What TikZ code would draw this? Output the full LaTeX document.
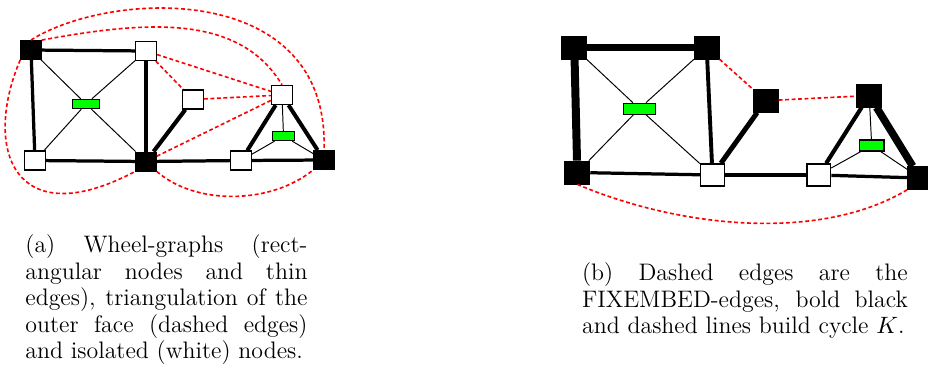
\documentclass[tikz,border=0pt]{standalone}
\begin{document}
\begin{tikzpicture}[x=0.463pt,y=-0.463pt,
  bnA/.style={draw=black,fill=black,line width=0.4pt,minimum width=9.6pt,minimum height=8.8pt,inner sep=0pt},
  wnA/.style={draw=black,fill=white,line width=0.6pt,minimum width=9.6pt,minimum height=8.8pt,inner sep=0pt},
  gnA/.style={draw=black,fill=green,line width=0.5pt,minimum width=12.5pt,minimum height=4.3pt,inner sep=0pt},
  gsA/.style={draw=black,fill=green,line width=0.5pt,minimum width=9.8pt,minimum height=4.3pt,inner sep=0pt},
  bnB/.style={draw=black,fill=black,line width=0.4pt,minimum width=11.6pt,minimum height=10.6pt,inner sep=0pt},
  wnB/.style={draw=black,fill=white,line width=0.7pt,minimum width=11pt,minimum height=10.2pt,inner sep=0pt},
  gnB/.style={draw=black,fill=green,line width=0.5pt,minimum width=14.8pt,minimum height=5.1pt,inner sep=0pt},
  gsB/.style={draw=black,fill=green,line width=0.5pt,minimum width=11.4pt,minimum height=5.1pt,inner sep=0pt},
  thk/.style={line width=1.5pt},
  thn/.style={line width=0.45pt},
  rdash/.style={red,line width=0.75pt,dash pattern=on 1.8pt off 1.2pt},
  capt/.style={anchor=north west,inner sep=0pt,align=justify,font=\fontsize{11.05pt}{12.25pt}\selectfont},
]
\useasboundingbox (0,0) rectangle (928,377);

% ---------- (a) ----------
\node[bnA] (aTL) at (31,50) {};
\node[wnA] (aTM) at (146,51) {};
\node[gnA] (aG) at (86,104) {};
\node[wnA] (aBL) at (35,160.5) {};
\node[bnA] (aBM) at (146,161.5) {};
\node[wnA] (aMid) at (193,99.5) {};
\node[wnA] (aTT) at (282,95) {};
\node[gsA] (aG2) at (283.5,136) {};
\node[wnA] (aBRM) at (241,160.5) {};
\node[bnA] (aBR) at (324,160) {};

\draw[thk] (aTL) -- (aTM);
\draw[thk] (aTL) -- (aBL);
\draw[thk] (aTM) -- (aBM);
\draw[thk] (aBL) -- (aBM);
\draw[line width=1.9pt] (aBM) -- (aMid);
\draw[thk] (aBM) -- (aBRM);
\draw[thk] (aBRM) -- (aBR);
\draw[line width=1.85pt] (aTT) -- (aBRM);
\draw[line width=1.85pt] (aTT) -- (aBR);
\draw[thn] (aTL) -- (aG);
\draw[thn] (aTM) -- (aG);
\draw[thn] (aBL) -- (aG);
\draw[thn] (aBM) -- (aG);
\draw[thn] (aTT) -- (aG2);
\draw[thn] (aBRM) -- (aG2);
\draw[thn] (aBR) -- (aG2);

\draw[rdash] (aTM) -- (aTT);
\draw[rdash] (aTM) -- (aMid);
\draw[rdash] (aMid) -- (aTT);
\draw[rdash] (aBM) -- (aTT);
\draw[rdash] (aTL.north) .. controls (110,-10) and (330,-20) .. (aBR.north);
\draw[rdash] (aTL.north east) .. controls (150,20) and (240,15) .. (aTT.north);
\draw[rdash] (aTL.south west) .. controls (-18,150) and (15,235) .. (aBM.south west);
\draw[rdash] (aBM.south east) .. controls (195,205) and (270,205) .. (aBR.south west);

% ---------- (b) ----------
\node[bnB] (bTL) at (574.3,47.7) {};
\node[bnB] (bTR) at (706.7,47.7) {};
\node[bnB] (bBL) at (577.3,172.5) {};
\node[wnB] (bBM) at (712.5,175) {};
\node[gnB] (bG) at (639.3,108.7) {};
\node[bnB] (bMid) at (765.7,100.7) {};
\node[bnB] (bTT) at (869.2,95.5) {};
\node[gsB] (bG2) at (871.7,145.5) {};
\node[wnB] (bBRM) at (818.7,175) {};
\node[bnB] (bBR) at (920,178) {};

\draw[line width=3.1pt] (bTL) -- (bTR);
\draw[line width=3.7pt] (bTL) -- (bBL);
\draw[line width=1.8pt] (bTR) -- (bBM);
\draw[line width=1.5pt] (bBL) -- (bBM);
\draw[line width=2.3pt] (bBM) -- (bMid);
\draw[line width=1.5pt] (bBM) -- (bBRM);
\draw[line width=1.5pt] (bBRM) -- (bBR);
\draw[line width=1.9pt] (bTT) -- (bBRM);
\draw[line width=3.5pt] (bTT) -- (bBR);
\draw[thn] (bTL) -- (bG);
\draw[thn] (bTR) -- (bG);
\draw[thn] (bBL) -- (bG);
\draw[thn] (bBM) -- (bG);
\draw[thn] (bTT) -- (bG2);
\draw[thn] (bBRM) -- (bG2);
\draw[thn] (bBR) -- (bG2);

\draw[rdash] (bTR) -- (bMid);
\draw[rdash] (bMid) -- (bTT);
\draw[rdash] (bBL.south) .. controls (680,228) and (820,242) .. (bBR.south west);

% ---------- captions ----------
\node[capt,text width=130.6pt] (capa) at (25,234.5)
  {(a) Wheel-graphs (rect-\linebreak angular nodes and thin\linebreak edges), triangulation of the\linebreak outer face (dashed edges)\linebreak and isolated (white) nodes.};
\node[capt,text width=150.8pt] (capb) at (581.7,262.5)
  {(b) Dashed edges are the\linebreak FIXEMBED-edges, bold black\linebreak and dashed lines build cycle $K$.};
\end{tikzpicture}
\end{document}
